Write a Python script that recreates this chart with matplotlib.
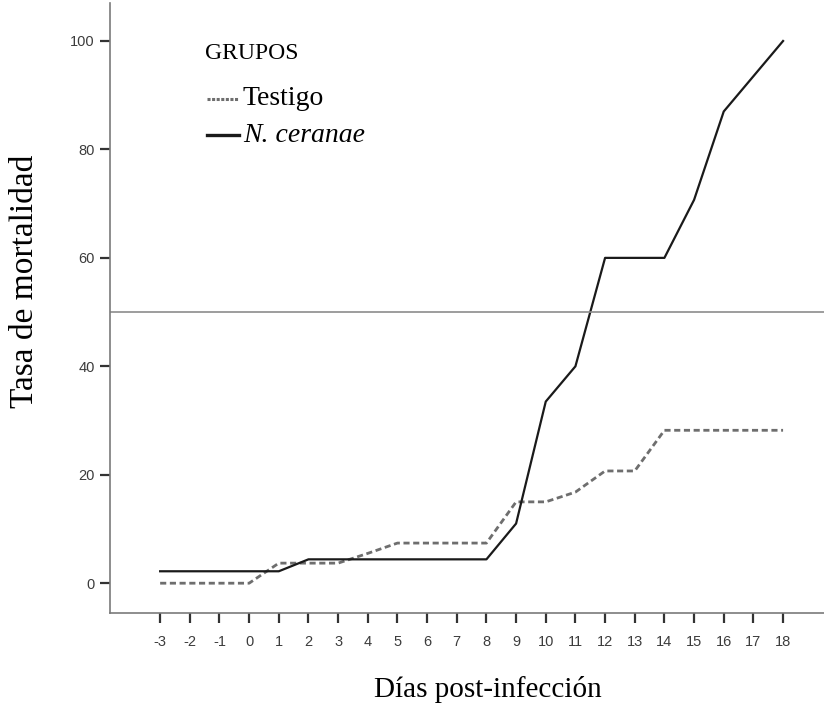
import numpy as np
import matplotlib
matplotlib.use("Agg")
import matplotlib.pyplot as plt

plt.rcParams['axes.unicode_minus'] = False

# days post infection
dias = [-3, -2, -1, 0, 1, 2, 3, 4, 5, 6, 7, 8, 9, 10, 11, 12, 13, 14, 15, 16, 17, 18]
# mortality (%) per group
testigo = [0, 0, 0, 0, 3.7, 3.7, 3.7, 5.5, 7.4, 7.4, 7.4, 7.4, 15.0, 15.0, 16.8, 20.7, 20.7, 28.2, 28.2, 28.2, 28.2, 28.2]
ceranae = [2.2, 2.2, 2.2, 2.2, 2.2, 4.4, 4.4, 4.4, 4.4, 4.4, 4.4, 4.4, 11.0, 33.5, 40.0, 60.0, 60.0, 60.0, 70.7, 87.0, 93.5, 100.0]
yticks = [0, 20, 40, 60, 80, 100]
ref_line = 50
grupos = ['Testigo', 'N. ceranae']

serif = 'Liberation Serif'
sans = 'Liberation Sans'
c_test = '#6e6e6e'
c_cer = '#1a1a1a'

fig = plt.figure(figsize=(8.24, 7.06), dpi=100)
ax = fig.add_axes([0.1335, 0.1317, 0.8665, 0.864])

ax.plot(dias, testigo, color=c_test, lw=2.0, linestyle=(0, (2.2, 1.3)))
ax.plot(dias, ceranae, color=c_cer, lw=1.6)
ax.axhline(ref_line, color='#8c8c8c', lw=1.2)

ax.set_xlim(-4.69, 19.38)
ax.set_ylim(-5.5, 107)
ax.set_xticks(dias)
ax.set_yticks(yticks)

for s in ['top', 'right']:
    ax.spines[s].set_visible(False)
for s in ['left', 'bottom']:
    ax.spines[s].set_color('#7a7a7a')
    ax.spines[s].set_linewidth(1.2)

ax.tick_params(axis='x', direction='out', length=7, width=1.6, color='#333333', pad=9,
               labelsize=10.5, labelcolor='#3c3c3c')
ax.tick_params(axis='y', direction='out', length=7, width=1.6, color='#333333', pad=4,
               labelsize=10.5, labelcolor='#3c3c3c')
for lab in ax.get_xticklabels() + ax.get_yticklabels():
    lab.set_fontfamily(sans)

ax.set_xlabel('Días post-infección', fontfamily=serif, fontsize=21, va='center')
ax.xaxis.set_label_coords(0.529, -0.126)
ax.set_ylabel('Tasa de mortalidad', fontfamily=serif, fontsize=24, va='center')
ax.yaxis.set_label_coords(-0.119, 0.543)

# legend block drawn by hand, as in the original figure
ax.text(0.133, 0.918, 'GRUPOS', transform=ax.transAxes, fontfamily=serif,
        fontsize=17, ha='left', va='center')
leg_y = [0.843, 0.783]
styles = [dict(color=c_test, lw=2.2, linestyle=(0, (1.0, 0.5))),
          dict(color=c_cer, lw=2.4)]
for nombre, yy, st in zip(grupos, leg_y, styles):
    ax.plot([0.136, 0.180], [yy, yy], transform=ax.transAxes, clip_on=False, **st)
    ax.text(0.186, yy, nombre, transform=ax.transAxes, fontfamily=serif, fontsize=20,
            ha='left', va='center', fontstyle='italic' if nombre.startswith('N.') else 'normal')

fig.savefig('out.png', dpi=100)
